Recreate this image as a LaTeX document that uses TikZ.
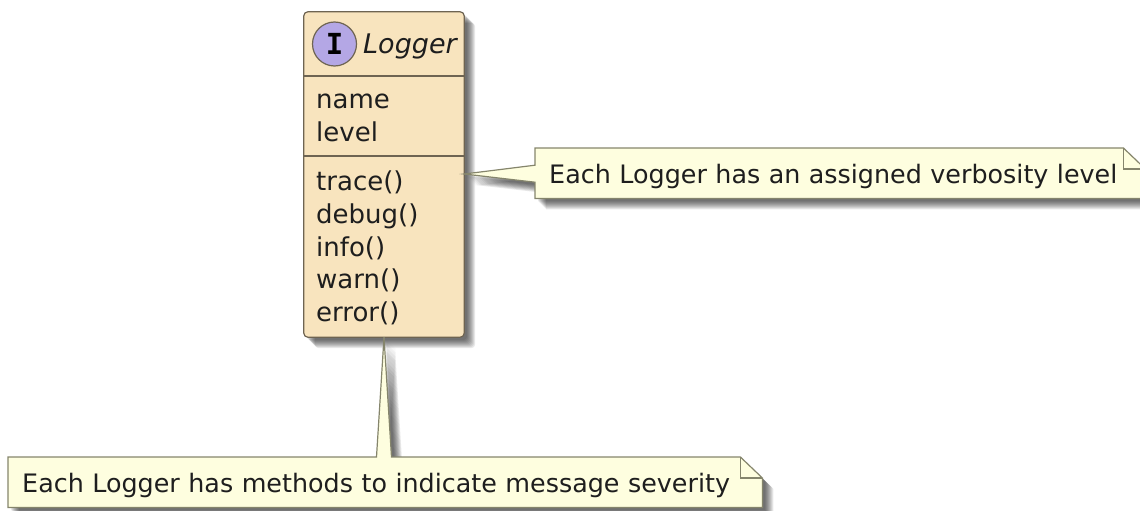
\documentclass[tikz,border=0pt]{standalone}
\usepackage{fontspec}
\setmainfont{DejaVu Sans}
\setmonofont{DejaVu Sans Mono}
\usetikzlibrary{backgrounds, calc}

\definecolor{classfill}{HTML}{F8E4BE}
\definecolor{classline}{HTML}{6E6452}
\definecolor{notefill}{HTML}{FEFEDF}
\definecolor{noteline}{HTML}{85856C}
\definecolor{spotfill}{HTML}{B4A7E5}
\definecolor{inktext}{HTML}{1E1E1E}

\tikzset{
  member/.style={anchor=base west, inner sep=0pt, text=inktext, font=\fontsize{26}{26}\selectfont},
  notetext/.style={anchor=north west, inner ysep=0pt, inner xsep=14pt, minimum height=50pt, text height=26pt, text depth=6pt, align=left, text=inktext, font=\fontsize{25.4}{26}\selectfont},
  softshadow/.style={fill=black, fill opacity=0.085},
}

\begin{document}
\begin{tikzpicture}[x=1pt, y=-1pt]
\useasboundingbox (0,0) rectangle (1140,511);

\node[minimum width=160pt, minimum height=325pt, inner sep=0pt] (logger) at (384,174.5) {};
\node[circle, draw=classline, fill=spotfill, line width=1.2pt, minimum size=44pt, inner sep=0pt, font=\ttfamily\bfseries\fontsize{29}{29}\selectfont] (spot) at (334.5,44) {I};
\node[member, font=\itshape\fontsize{27}{27}\selectfont] (title) at (363,53) {Logger};
\node[member] (name) at (316,108.5) {name};
\node[member] (level) at (316,141) {level};
\foreach \method [count=\i] in {trace(), debug(), info(), warn(), error()}
  \node[member] (m\i) at (316,190.5+32.8*\i-32.8) {\method};

\node[notetext, text width=582pt] (levelnote) at (535,148) {Each Logger has an assigned verbosity level};
\node[notetext, text width=726pt] (severitynote) at (8,457) {Each Logger has methods to indicate message severity};

\coordinate (leveltip) at (logger.east |- 0,174);
\coordinate (severitytip) at (logger.south);

\def\classoutline{[rounded corners=4pt] (logger.north west) rectangle (logger.south east)}
\def\leveloutline{(levelnote.north west) -- ($(levelnote.west)+(0,-8)$) -- (leveltip) -- ($(levelnote.west)+(0,9)$) -- (levelnote.south west) -- (levelnote.south east) -- ($(levelnote.north east)+(0,21)$) -- ($(levelnote.north east)+(-22,0)$) -- cycle}
\def\severityoutline{(severitynote.north west) -- ($(severitytip |- severitynote.north)+(-7.5,0)$) -- (severitytip) -- ($(severitytip |- severitynote.north)+(7.5,0)$) -- ($(severitynote.north east)+(-22,0)$) -- ($(severitynote.north east)+(0,21)$) -- (severitynote.south east) -- (severitynote.south west) -- cycle}

\begin{scope}[on background layer]
% blurred shadows
\foreach \d in {3,...,11} {
  \begin{scope}[transform canvas={shift={(\d pt,-\d pt)}}]
  \path[softshadow] \classoutline;
  \path[softshadow] \leveloutline;
  \path[softshadow] \severityoutline;
  \end{scope}
}
\draw[classline, fill=classfill, line width=1.2pt] \classoutline;
\draw[classline, line width=1.2pt] (logger.west |- 0,76) -- (logger.east |- 0,76);
\draw[classline, line width=1.2pt] (logger.west |- 0,156) -- (logger.east |- 0,156);
\draw[noteline, fill=notefill, line width=1.2pt] \leveloutline;
\draw[noteline, fill=notefill, line width=1.2pt] \severityoutline;
% folded corners
\draw[noteline, line width=1.2pt] ($(levelnote.north east)+(-22,0)$) |- ($(levelnote.north east)+(0,21)$);
\draw[noteline, line width=1.2pt] ($(severitynote.north east)+(-22,0)$) |- ($(severitynote.north east)+(0,21)$);
\end{scope}
\end{tikzpicture}
\end{document}
